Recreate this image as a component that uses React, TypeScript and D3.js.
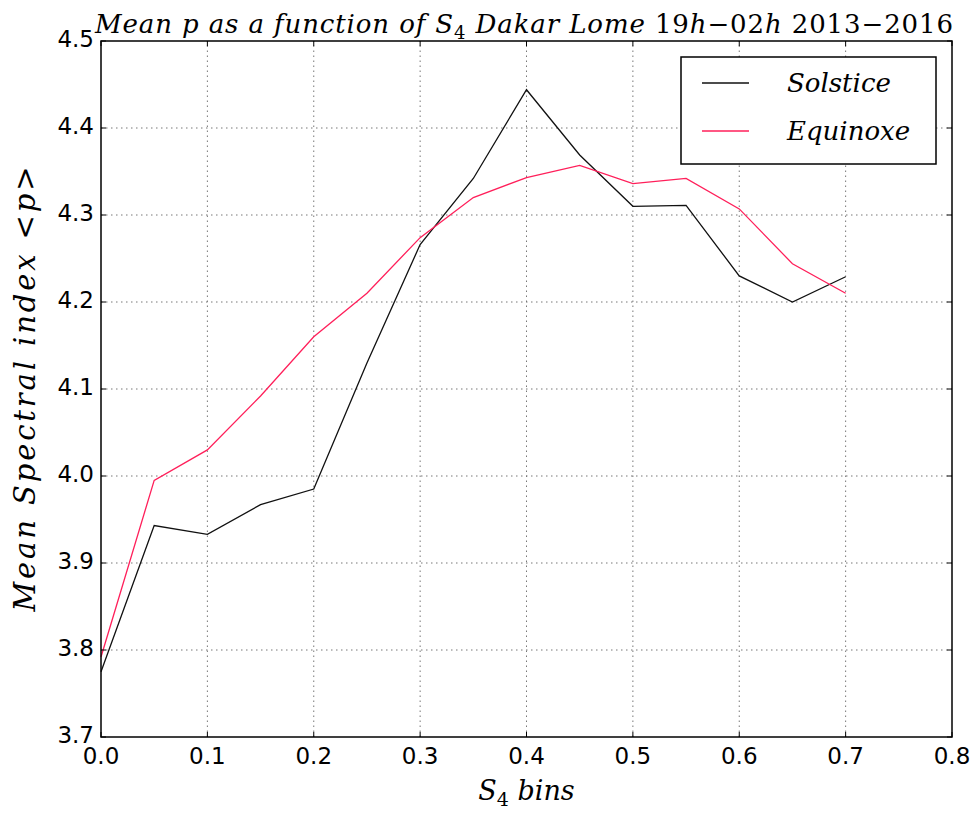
import * as d3 from 'd3';

const xBins = [0.0, 0.05, 0.1, 0.15, 0.2, 0.25, 0.3, 0.35, 0.4, 0.45, 0.5, 0.55, 0.6, 0.65, 0.7];
const solstice = [3.775, 3.943, 3.933, 3.967, 3.985, 4.13, 4.266, 4.342, 4.444, 4.369, 4.31, 4.311, 4.23, 4.2, 4.229];
const equinoxe = [3.792, 3.995, 4.03, 4.092, 4.16, 4.21, 4.274, 4.32, 4.343, 4.357, 4.336, 4.342, 4.307, 4.244, 4.21];
const xTicks = [0.0, 0.1, 0.2, 0.3, 0.4, 0.5, 0.6, 0.7, 0.8];
const yTicks = [3.7, 3.8, 3.9, 4.0, 4.1, 4.2, 4.3, 4.4, 4.5];

const W = 973;
const H = 813;
const margin = { top: 41, right: 21, bottom: 76, left: 101 };
const SERIF = '"DejaVu Serif", serif';
const SANS = '"DejaVu Sans", sans-serif';
const RED = '#ff1f5a';

export default function App() {
  const x = d3.scaleLinear().domain([0, 0.8]).range([margin.left, W - margin.right]);
  const y = d3.scaleLinear().domain([3.7, 4.5]).range([H - margin.bottom, margin.top]);
  const line = d3.line<number>()
    .x((_, i) => x(xBins[i]))
    .y(d => y(d));

  const x0 = x.range()[0], x1 = x.range()[1];
  const y0 = y.range()[0], y1 = y.range()[1];

  return (
    <svg width={W} height={H} style={{ position: 'absolute', left: 0, top: 0, background: '#fff' }}>
      {/* grid */}
      {xTicks.slice(1, -1).map(t => (
        <line key={'gx' + t} x1={x(t)} x2={x(t)} y1={y0} y2={y1} stroke="#777" strokeWidth={1} strokeDasharray="1.5,3.5" />
      ))}
      {yTicks.slice(1, -1).map(t => (
        <line key={'gy' + t} x1={x0} x2={x1} y1={y(t)} y2={y(t)} stroke="#777" strokeWidth={1} strokeDasharray="1.5,3.5" />
      ))}

      {/* series */}
      <path d={line(solstice) || ''} fill="none" stroke="#111" strokeWidth={1.3} />
      <path d={line(equinoxe) || ''} fill="none" stroke={RED} strokeWidth={1.3} />

      {/* inward ticks on all sides */}
      {xTicks.map(t => (
        <g key={'tx' + t}>
          <line x1={x(t)} x2={x(t)} y1={y0} y2={y0 - 5} stroke="#000" />
          <line x1={x(t)} x2={x(t)} y1={y1} y2={y1 + 5} stroke="#000" />
          <text x={x(t)} y={y0 + 27} textAnchor="middle" fontFamily={SANS} fontSize={23}>{t.toFixed(1)}</text>
        </g>
      ))}
      {yTicks.map(t => (
        <g key={'ty' + t}>
          <line x1={x0} x2={x0 + 5} y1={y(t)} y2={y(t)} stroke="#000" />
          <line x1={x1} x2={x1 - 5} y1={y(t)} y2={y(t)} stroke="#000" />
          <text x={x0 - 7} y={y(t) + 6} textAnchor="end" fontFamily={SANS} fontSize={23}>{t.toFixed(1)}</text>
        </g>
      ))}

      {/* frame */}
      <rect x={x0} y={y1} width={x1 - x0} height={y0 - y1} fill="none" stroke="#000" strokeWidth={1.5} />

      {/* legend */}
      <rect x={681} y={57} width={255} height={107} fill="#fff" stroke="#000" strokeWidth={1.5} />
      <line x1={702} x2={749} y1={83} y2={83} stroke="#111" strokeWidth={1.3} />
      <line x1={702} x2={749} y1={131} y2={131} stroke={RED} strokeWidth={1.3} />
      <text x={787} y={92} fontFamily={SERIF} fontStyle="italic" fontSize={26}>Solstice</text>
      <text x={787} y={140} fontFamily={SERIF} fontStyle="italic" fontSize={26}>Equinoxe</text>

      {/* title */}
      <text x={95} y={33} fontFamily={SERIF} fontSize={26} textLength={858} lengthAdjust="spacing">
        <tspan fontStyle="italic">Mean p as a function of S</tspan>
        <tspan fontSize={18} dy={6}>4</tspan>
        <tspan fontStyle="italic" dy={-6}> Dakar Lome </tspan>
        <tspan>19</tspan>
        <tspan fontStyle="italic">h</tspan>
        <tspan>−02</tspan>
        <tspan fontStyle="italic">h</tspan>
        <tspan> 2013−2016</tspan>
      </text>

      {/* x label */}
      <text x={(x0 + x1) / 2} y={800} textAnchor="middle" fontFamily={SERIF} fontSize={27}>
        <tspan fontStyle="italic">S</tspan>
        <tspan fontSize={19} dy={6}>4</tspan>
        <tspan fontStyle="italic" dy={-6}> bins</tspan>
      </text>

      {/* y label */}
      <text transform={`translate(35,${(y0 + y1) / 2}) rotate(-90)`} textAnchor="middle" fontFamily={SERIF} fontStyle="italic" fontSize={29} textLength={445} lengthAdjust="spacing">
        Mean Spectral index &lt;p&gt;
      </text>
    </svg>
  );
}
